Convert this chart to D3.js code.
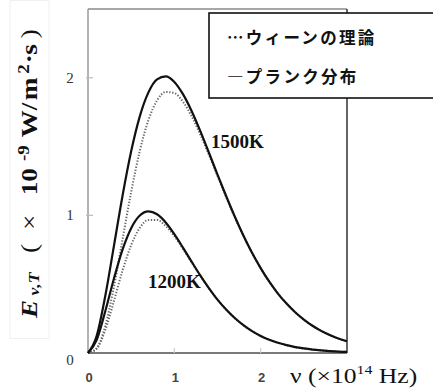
<!DOCTYPE html>
<html><head><meta charset="utf-8">
<script src="https://cdn.jsdelivr.net/npm/d3@7"></script>
<style>html,body{margin:0;padding:0;background:#fff;}svg{display:block;}</style>
</head><body>
<svg id="c" width="433" height="391"></svg>
<script>
// ---- data ----
const nu = [0,0.1,0.2,0.3,0.4,0.5,0.6,0.7,0.8,0.9,1.0,1.1,1.2,1.3,1.4,1.5,1.6,1.7,1.8,1.9,2.0,2.1,2.2,2.3,2.4,2.5,2.6,2.7,2.8,2.9,3.0];
const planck1500 = [0,0.123,0.414,0.777,1.143,1.466,1.720,1.894,1.989,2.010,1.970,1.881,1.759,1.614,1.457,1.297,1.141,0.992,0.854,0.728,0.617,0.518,0.432,0.359,0.296,0.243,0.198,0.161,0.131,0.105,0.085];
const wien1500   = [0,0.034,0.196,0.480,0.825,1.170,1.468,1.693,1.835,1.897,1.889,1.826,1.721,1.589,1.441,1.287,1.134,0.987,0.851,0.727,0.616,0.517,0.432,0.358,0.296,0.243,0.198,0.161,0.131,0.105,0.085];
const planck1200 = [0,0.094,0.303,0.540,0.751,0.907,0.999,1.029,1.008,0.949,0.864,0.766,0.664,0.564,0.472,0.388,0.316,0.254,0.202,0.159,0.124,0.096,0.074,0.057,0.043,0.033,0.025,0.019,0.014,0.010,0.008];
const wien1200   = [0,0.031,0.167,0.377,0.599,0.784,0.909,0.967,0.967,0.923,0.849,0.757,0.659,0.561,0.470,0.387,0.315,0.253,0.201,0.159,0.124,0.096,0.074,0.057,0.043,0.033,0.025,0.019,0.014,0.010,0.008];
const xTicks = [0,1,2];
const yTicks = [0,1,2];
const legendLabels = ["…ウィーンの理論","―プランク分布"];
const seriesLabels = ["1500K","1200K"];

const svg = d3.select("#c");
const x = d3.scaleLinear().domain([0,3]).range([88,347]);
const y = d3.scaleLinear().domain([0,2.5]).range([353,9]);

// y-label faint box
svg.append("rect").attr("x",10).attr("y",0.5).attr("width",39).attr("height",338)
  .attr("fill","none").attr("stroke","#f0f0f0").attr("stroke-width",1);

// frame
svg.append("line").attr("x1",x(0)).attr("x2",x(0)).attr("y1",y(2.5)).attr("y2",y(0)).attr("stroke","#8a8a8a").attr("stroke-width",1.3);
svg.append("line").attr("x1",x(0)).attr("x2",x(3)).attr("y1",y(2.5)).attr("y2",y(2.5)).attr("stroke","#8a8a8a").attr("stroke-width",1.3);
svg.append("line").attr("x1",x(3)).attr("x2",x(3)).attr("y1",y(2.5)).attr("y2",y(0)).attr("stroke","#555").attr("stroke-width",1.8);
svg.append("line").attr("x1",x(0)).attr("x2",x(3)).attr("y1",y(0)).attr("y2",y(0)).attr("stroke","#7a7a7a").attr("stroke-width",1.8);

// ticks
svg.selectAll(".yt").data(yTicks.filter(d=>d>0)).enter().append("line")
  .attr("x1",x(0)-2).attr("x2",x(0)+5).attr("y1",d=>y(d)).attr("y2",d=>y(d))
  .attr("stroke","#bbb").attr("stroke-width",1.2);
svg.selectAll(".xt").data(xTicks.filter(d=>d>0)).enter().append("line")
  .attr("x1",d=>x(d)).attr("x2",d=>x(d)).attr("y1",y(0)).attr("y2",y(0)-5)
  .attr("stroke","#ccc").attr("stroke-width",1.2);

// tick labels
svg.selectAll(".yl").data(yTicks).enter().append("text")
  .attr("x",70).attr("y",d=>y(d)+(d===0?12:5)).attr("text-anchor","middle")
  .attr("font-family","Liberation Serif, serif").attr("font-size",15).attr("fill","#333").text(d=>d);
svg.selectAll(".xl").data(xTicks).enter().append("text")
  .attr("x",d=>x(d)+1).attr("y",382).attr("text-anchor","middle")
  .attr("font-family","Liberation Sans, Arial, sans-serif").attr("font-weight","bold").attr("font-size",13).attr("fill","#444").text(d=>d);

// curves
const line = arr => d3.line().x((d,i)=>x(nu[i])).y(d=>y(d)).curve(d3.curveMonotoneX)(arr);
[wien1500, wien1200].forEach(s=>{
  svg.append("path").attr("d",line(s)).attr("fill","none").attr("stroke","#666")
    .attr("stroke-width",2).attr("stroke-dasharray","1.3,1.7");
});
[planck1500, planck1200].forEach(s=>{
  svg.append("path").attr("d",line(s)).attr("fill","none").attr("stroke","#111")
    .attr("stroke-width",2.2);
});

// series labels
svg.append("text").attr("x",211).attr("y",148).attr("font-family","Liberation Serif, serif")
  .attr("font-weight","bold").attr("font-size",19).attr("fill","#111").text(seriesLabels[0]);
svg.append("text").attr("x",148).attr("y",288).attr("font-family","Liberation Serif, serif")
  .attr("font-weight","bold").attr("font-size",19).attr("fill","#111").text(seriesLabels[1]);

// legend
svg.append("rect").attr("x",209).attr("y",13).attr("width",240).attr("height",85)
  .attr("fill","#fff").attr("stroke","#111").attr("stroke-width",1.6);
legendLabels.forEach((t,i)=>{
  svg.append("text").attr("x",227).attr("y",44+i*39)
    .attr("font-family","Noto Sans CJK JP, sans-serif").attr("font-weight","bold")
    .attr("font-size",16.5).attr("letter-spacing",2.3).attr("fill","#111").text(t);
});

// x axis label (slightly stretched horizontally, as in the reference)
const xl = svg.append("text").attr("transform","translate(290,383) scale(1.22,1)")
  .attr("font-family","Liberation Serif, serif").attr("font-size",21).attr("fill","#111");
xl.append("tspan").text("ν (×10");
xl.append("tspan").attr("dy",-9).attr("font-size",13).text("14");
xl.append("tspan").attr("dy",9).text(" Hz)");

// y axis label (stretched along its direction)
const yl = svg.append("text").attr("transform","translate(37,318) rotate(-90) scale(1.18,1)")
  .attr("font-family","Liberation Serif, serif").attr("font-size",23).attr("font-weight","bold").attr("fill","#111");
yl.append("tspan").attr("x",0).attr("font-style","italic").text("E");
yl.append("tspan").attr("x",19).attr("dy",2).attr("font-size",15).attr("font-style","italic").text("ν,T");
yl.append("tspan").attr("x",55).attr("dy",-2).attr("font-weight","normal").text("(");
yl.append("tspan").attr("x",74.5).attr("font-weight","normal").text("×");
yl.append("tspan").attr("x",104).text("10");
yl.append("tspan").attr("x",133).attr("dy",-8).attr("font-size",16).text("-9");
yl.append("tspan").attr("x",153).attr("dy",8).text("W");
yl.append("tspan").attr("x",176).text("/");
yl.append("tspan").attr("x",184.5).text("m");
yl.append("tspan").attr("x",207).attr("dy",-8).attr("font-size",16).text("2");
yl.append("tspan").attr("x",216).attr("dy",8).text("·");
yl.append("tspan").attr("x",223).text("s");
yl.append("tspan").attr("x",237).attr("font-weight","normal").text(")");
</script>
</body></html>
